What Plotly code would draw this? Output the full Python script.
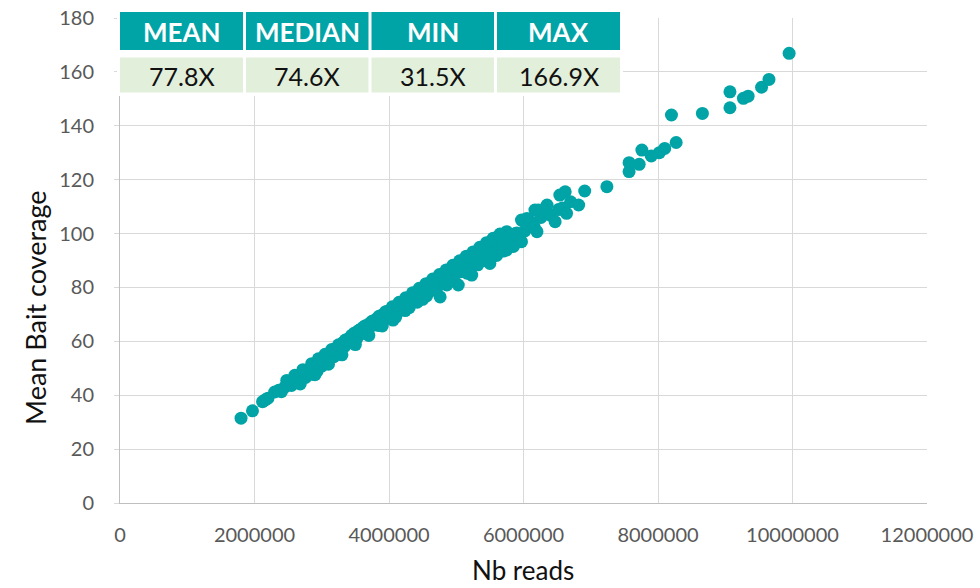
import plotly.graph_objects as go

# Sequencing depth (millions of reads) and mean bait coverage per sample
reads_millions = [
    1.80, 1.97, 2.12, 2.16, 2.20, 2.30, 2.36, 2.40, 2.45, 2.50, 2.53, 2.55, 2.58, 2.62, 2.63, 2.66,
    2.70, 2.73, 2.76, 2.80, 2.83, 2.86, 2.88, 2.91, 2.93, 2.96, 2.98, 3.00, 3.02, 3.04, 3.06, 3.08,
    3.10, 3.12, 3.14, 3.16, 3.18, 3.20, 3.22, 3.24, 3.26, 3.28, 3.30, 3.32, 3.34, 3.36, 3.38, 3.40,
    3.42, 3.44, 3.46, 3.48, 3.50, 3.52, 3.54, 3.56, 3.58, 3.60, 3.62, 3.64, 3.66, 3.68, 3.70, 3.72,
    3.74, 3.76, 3.78, 3.80, 3.82, 3.84, 3.86, 3.88, 3.90, 3.92, 3.94, 3.96, 3.98, 4.00, 4.02, 4.04,
    4.06, 4.08, 4.10, 4.12, 4.14, 4.16, 4.18, 4.20, 4.22, 4.24, 4.26, 4.28, 4.30, 4.32, 4.34, 4.36,
    4.38, 4.40, 4.42, 4.44, 4.46, 4.48, 4.50, 4.52, 4.54, 4.56, 4.58, 4.60, 4.62, 4.64, 4.66, 4.68,
    4.70, 4.72, 4.74, 4.76, 4.78, 4.80, 4.82, 4.84, 4.86, 4.88, 4.90, 4.92, 4.94, 4.96, 4.98, 5.00,
    5.03, 5.04, 5.06, 5.08, 5.10, 5.12, 5.14, 5.16, 5.18, 5.20, 5.23, 5.24, 5.26, 5.28, 5.30, 5.32,
    5.34, 5.36, 5.38, 5.40, 5.42, 5.44, 5.46, 5.48, 5.50, 5.52, 5.54, 5.56, 5.58, 5.60, 5.62, 5.64,
    5.66, 5.68, 5.70, 5.72, 5.75, 5.75, 5.78, 5.80, 5.84, 5.88, 5.90, 5.92, 5.97, 5.97, 6.02, 6.05,
    6.08, 6.12, 6.16, 6.17, 6.20, 6.22, 6.26, 6.30, 6.35, 6.40, 6.47, 6.52, 6.54, 6.58, 6.62, 6.64,
    6.70, 6.82, 6.91, 7.24, 7.57, 7.57, 7.72, 7.76, 7.90, 8.02, 8.10, 8.20, 8.27, 8.66, 9.07, 9.07,
    9.27, 9.34, 9.54, 9.65, 9.95,
    # samples sitting on the upper edge of the main band
    2.48, 2.60, 2.72, 2.85, 2.95, 3.05, 3.15, 3.25, 3.35, 3.45, 3.55, 3.65, 3.75, 3.85, 3.95, 4.05,
    4.15, 4.25, 4.35, 4.45, 4.55, 4.65, 4.75, 4.85, 4.95, 5.05, 5.15, 5.25, 5.35, 5.45, 5.55, 5.65,
    # samples sitting on the lower edge of the main band
    2.68, 2.90, 3.10, 3.30, 3.50, 3.70, 3.90, 4.10, 4.30, 4.50, 4.70, 4.90, 5.10, 5.30, 5.50, 5.70,
    5.85,
]
mean_bait_coverage = [
    31.5, 34.2, 37.6, 38.3, 38.9, 41.2, 41.8, 41.3, 43.0, 44.5, 44.4, 43.6, 45.2, 45.9, 45.6, 45.1,
    46.8, 47.5, 46.6, 48.2, 48.9, 47.8, 49.6, 50.3, 48.9, 51.0, 52.1, 50.8, 53.0, 52.2, 54.1, 53.2,
    55.0, 54.0, 56.0, 55.1, 54.3, 56.8, 57.5, 56.1, 58.0, 57.2, 58.9, 59.6, 58.1, 60.2, 59.4, 61.0,
    60.1, 62.0, 61.2, 63.0, 62.1, 61.0, 63.8, 62.9, 64.5, 63.6, 65.3, 64.2, 62.8, 66.0, 65.1, 66.8,
    65.7, 67.5, 66.4, 68.1, 67.2, 65.9, 69.0, 68.0, 69.8, 68.7, 70.4, 69.3, 71.2, 70.1, 68.6, 72.0,
    67.9, 71.0, 72.9, 71.8, 73.5, 72.4, 74.2, 73.0, 74.6, 71.4, 75.3, 74.1, 76.0, 74.9, 76.6, 75.5,
    77.3, 76.0, 74.5, 78.0, 76.8, 79.0, 77.6, 79.5, 78.3, 76.9, 80.2, 79.0, 81.0, 79.8, 82.0, 80.6,
    78.8, 82.5, 81.3, 76.5, 83.2, 81.9, 84.0, 82.6, 80.9, 84.7, 83.4, 85.5, 84.1, 86.0, 84.8, 87.0,
    80.9, 85.7, 87.8, 86.4, 88.6, 87.2, 89.3, 85.3, 88.0, 90.1, 84.6, 89.0, 91.0, 89.7, 91.7, 88.4,
    90.5, 92.4, 91.2, 93.1, 90.0, 92.0, 94.0, 92.8, 88.9, 94.7, 93.4, 95.5, 94.0, 91.9, 96.2, 95.0,
    97.0, 95.7, 93.5, 98.0, 100.7, 93.9, 96.5, 99.0, 97.6, 100.0, 100.2, 98.4, 97.0, 105.0, 101.0, 105.6,
    103.0, 104.2, 102.5, 108.7, 100.7, 108.7, 106.0, 107.5, 110.6, 106.8, 104.4, 108.9, 114.3, 109.5, 115.5, 107.5,
    111.8, 110.6, 115.8, 117.4, 123.0, 126.3, 125.7, 131.0, 128.8, 130.0, 131.6, 144.0, 133.8, 144.6, 152.6, 146.7,
    150.2, 151.0, 154.3, 157.2, 166.9,
    45.5, 47.4, 49.5, 51.7, 53.5, 55.2, 57.0, 58.7, 60.5, 62.3, 64.0, 65.8, 67.5, 69.3, 71.0, 72.8,
    74.5, 76.2, 78.0, 79.7, 81.4, 83.1, 84.8, 86.5, 88.2, 89.9, 91.6, 93.2, 94.9, 96.6, 98.3, 99.8,
    44.2, 47.6, 51.5, 55.0, 58.8, 62.2, 65.7, 69.0, 72.5, 75.6, 79.2, 82.5, 85.9, 89.2, 92.4, 96.0,
    95.2,
]
reads = [v * 1_000_000 for v in reads_millions]

# Summary table contents
stat_names = ["MEAN", "MEDIAN", "MIN", "MAX"]
stat_values = ["77.8X", "74.6X", "31.5X", "166.9X"]

x_ticks = [0, 2000000, 4000000, 6000000, 8000000, 10000000, 12000000]
y_ticks = [0, 20, 40, 60, 80, 100, 120, 140, 160, 180]

TEAL = "#00A3A6"
PALE_GREEN = "#E2EFDA"
GRID = "#D9D9D9"
FONT = "Lato"

W, H = 980, 588
ML, MR, MT, MB = 120, 53, 18, 85
PW, PH = W - ML - MR, H - MT - MB


def px_x(p):
    return (p - ML) / PW


def px_y(p):
    return (H - MB - p) / PH


fig = go.Figure(
    go.Scatter(
        x=reads,
        y=mean_bait_coverage,
        mode="markers",
        marker=dict(color=TEAL, size=13, line=dict(width=0)),
        hoverinfo="x+y",
    )
)

shapes = []
annotations = []

# White backing behind the summary table
shapes.append(dict(type="rect", xref="paper", yref="paper", layer="above",
                   x0=px_x(117), x1=px_x(623), y0=px_y(96), y1=px_y(9),
                   fillcolor="white", line=dict(width=0)))

col_edges = [(120, 243), (246, 368.5), (371.5, 494), (497, 620)]
for (a, b), name, val in zip(col_edges, stat_names, stat_values):
    shapes.append(dict(type="rect", xref="paper", yref="paper", layer="above",
                       x0=px_x(a), x1=px_x(b), y0=px_y(50), y1=px_y(12),
                       fillcolor=TEAL, line=dict(width=0)))
    shapes.append(dict(type="rect", xref="paper", yref="paper", layer="above",
                       x0=px_x(a), x1=px_x(b), y0=px_y(92.5), y1=px_y(57.5),
                       fillcolor=PALE_GREEN, line=dict(width=0)))
    annotations.append(dict(xref="paper", yref="paper", x=px_x((a + b) / 2), y=px_y(32),
                            text=f"<b>{name}</b>", showarrow=False,
                            font=dict(family=FONT, size=26, color="white"),
                            xanchor="center", yanchor="middle"))
    annotations.append(dict(xref="paper", yref="paper", x=px_x((a + b) / 2), y=px_y(76),
                            text=val, showarrow=False,
                            font=dict(family=FONT, size=25, color="#111111"),
                            xanchor="center", yanchor="middle"))

# Axis titles placed as annotations so the plot area keeps fixed margins
annotations.append(dict(xref="paper", yref="paper", x=px_x(523), y=px_y(570),
                        text="Nb reads", showarrow=False,
                        font=dict(family=FONT, size=26, color="#111111"),
                        xanchor="center", yanchor="middle"))
annotations.append(dict(xref="paper", yref="paper", x=px_x(35), y=px_y(308),
                        text="Mean Bait coverage", showarrow=False, textangle=-90,
                        font=dict(family=FONT, size=27, color="#111111"),
                        xanchor="center", yanchor="middle"))

fig.update_layout(
    width=W, height=H,
    margin=dict(l=ML, r=MR, t=MT, b=MB),
    paper_bgcolor="white", plot_bgcolor="white",
    showlegend=False,
    font=dict(family=FONT, color="#595959"),
    shapes=shapes,
    annotations=annotations,
    xaxis=dict(
        range=[0, 12000000], tickvals=x_ticks, ticktext=[str(v) for v in x_ticks],
        showgrid=True, gridcolor=GRID, gridwidth=1, automargin=False,
        zeroline=False, showline=True, linecolor="#BFBFBF", linewidth=1,
        ticks="", tickfont=dict(family=FONT, size=20, color="#595959"),
        ticklabelstandoff=14,
    ),
    yaxis=dict(
        range=[0, 180], tickvals=y_ticks, automargin=False,
        showgrid=True, gridcolor=GRID, gridwidth=1,
        zeroline=False, showline=True, linecolor="#BFBFBF", linewidth=1,
        ticks="outside", ticklen=5, tickcolor=GRID,
        tickfont=dict(family=FONT, size=20, color="#595959"),
        ticklabelstandoff=16,
    ),
)

fig.write_html("out.html")
